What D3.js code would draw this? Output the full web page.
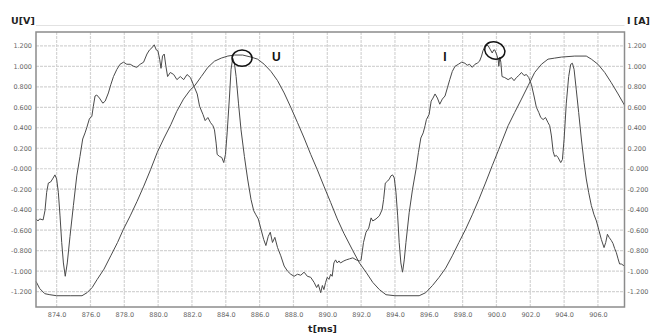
<!DOCTYPE html>
<html>
<head>
<meta charset="utf-8">
<script src="https://cdn.jsdelivr.net/npm/d3@7"></script>
<style>
  html, body { margin: 0; padding: 0; background: #fff; }
  svg { display: block; }
  .tick-label { font-family: "DejaVu Sans", Verdana, sans-serif; font-size: 6.5px; fill: #666; }
  .axis-title { font-family: "DejaVu Sans", Verdana, sans-serif; font-weight: bold; font-size: 9.5px; fill: #222; }
  .note { font-family: "Liberation Sans", Arial, sans-serif; font-weight: bold; font-size: 12px; fill: #111; }
</style>
</head>
<body>
<svg id="chart" width="652" height="333"></svg>
<script>
// Voltage trace U (time in ms, value)
const uTime = [872.78, 873.0, 873.3, 873.6, 874.0, 874.8, 875.5, 875.8, 876.1, 876.4, 876.8, 877.2, 877.6, 877.95,
  878.35, 878.75, 879.15, 879.55, 879.95, 880.35, 880.75, 881.1, 881.5, 881.9, 882.16, 882.55, 882.94, 883.33,
  883.73, 884.12, 884.51, 885.0, 885.49, 885.88, 886.27, 886.67, 887.06, 887.45, 887.84, 888.24, 888.63, 889.02,
  889.41, 889.8, 890.2, 890.59, 890.98, 891.51, 891.9, 892.29, 892.69, 893.08, 893.47, 894.0, 895.43, 895.82,
  896.22, 896.61, 897.0, 897.39, 897.78, 898.18, 898.57, 898.96, 899.35, 899.75, 900.14, 900.69, 901.08, 901.48,
  901.87, 902.26, 902.66, 903.05, 903.44, 903.84, 904.63, 905.31, 905.61, 906.0, 906.4, 906.79, 907.19, 907.57];
const uValue = [-1.10, -1.17, -1.22, -1.23, -1.24, -1.24, -1.24, -1.21, -1.16, -1.08, -0.98, -0.85, -0.72, -0.59,
  -0.46, -0.32, -0.17, -0.01, 0.16, 0.30, 0.43, 0.56, 0.68, 0.77, 0.81, 0.90, 0.99, 1.05,
  1.08, 1.10, 1.11, 1.11, 1.09, 1.07, 1.02, 0.95, 0.86, 0.74, 0.60, 0.45, 0.30, 0.14,
  -0.01, -0.17, -0.33, -0.49, -0.63, -0.80, -0.92, -1.01, -1.11, -1.18, -1.23, -1.24, -1.24, -1.21,
  -1.14, -1.06, -0.97, -0.85, -0.72, -0.59, -0.45, -0.30, -0.14, 0.03, 0.19, 0.42, 0.55, 0.68,
  0.81, 0.94, 1.02, 1.07, 1.08, 1.09, 1.10, 1.10, 1.07, 1.02, 0.94, 0.84, 0.73, 0.62];

// Current trace I (time in ms, value)
const iTime = [872.78, 872.9, 873.0, 873.2, 873.31, 873.41, 873.51, 873.64, 873.76, 873.9, 874.0, 874.1, 874.2,
  874.3, 874.4, 874.51, 874.63, 874.79, 874.99, 875.19, 875.38, 875.54, 875.68, 875.78, 875.94, 876.08, 876.17,
  876.27, 876.37, 876.53, 876.73, 876.87, 877.06, 877.2, 877.36, 877.56, 877.75, 877.95, 878.15, 878.35, 878.55,
  878.74, 878.94, 879.14, 879.34, 879.49, 879.63, 879.77, 879.89, 879.99, 880.09, 880.17, 880.26, 880.36, 880.46,
  880.56, 880.72, 880.92, 881.11, 881.31, 881.51, 881.71, 881.91, 882.16, 882.31, 882.45, 882.65, 882.78, 882.94,
  883.1, 883.24, 883.33, 883.43, 883.49, 883.63, 883.76, 883.88, 883.98, 884.08, 884.22, 884.31, 884.41, 884.51,
  884.61, 884.75, 884.9, 885.1, 885.29, 885.49, 885.65, 885.78, 885.92, 886.08, 886.24, 886.37, 886.51, 886.63,
  886.76, 886.9, 887.06, 887.25, 887.45, 887.65, 887.84, 888.04, 888.24, 888.43, 888.63, 888.82, 889.02, 889.22,
  889.37, 889.47, 889.61, 889.71, 889.8, 889.9, 890.0, 890.1, 890.2, 890.29, 890.39, 890.49, 890.59, 890.69,
  890.78, 890.98, 891.12, 891.31, 891.51, 891.71, 891.9, 892.0, 892.14, 892.29, 892.45, 892.59, 892.69, 892.88,
  893.08, 893.24, 893.33, 893.43, 893.57, 893.67, 893.76, 893.86, 893.96, 894.06, 894.16, 894.25, 894.35, 894.45,
  894.55, 894.65, 894.84, 895.04, 895.24, 895.39, 895.53, 895.67, 895.78, 895.86, 896.02, 896.14, 896.25, 896.37,
  896.51, 896.65, 896.8, 896.96, 897.1, 897.24, 897.39, 897.55, 897.75, 897.94, 898.14, 898.27, 898.41, 898.57,
  898.73, 898.86, 899.0, 899.12, 899.2, 899.35, 899.51, 899.65, 899.75, 899.84, 899.9, 900.0, 900.1, 900.14,
  900.2, 900.26, 900.33, 900.49, 900.69, 900.89, 901.04, 901.18, 901.32, 901.48, 901.63, 901.77, 901.91, 902.07,
  902.22, 902.36, 902.5, 902.62, 902.76, 902.9, 903.05, 903.15, 903.25, 903.35, 903.44, 903.54, 903.64, 903.8,
  903.9, 904.0, 904.13, 904.27, 904.39, 904.49, 904.59, 904.72, 904.86, 905.02, 905.18, 905.31, 905.45, 905.61,
  905.77, 905.91, 906.04, 906.2, 906.36, 906.46, 906.56, 906.66, 906.79, 906.89, 906.99, 907.09, 907.19, 907.28,
  907.38, 907.57];
const iValue = [-0.49, -0.51, -0.49, -0.50, -0.41, -0.23, -0.14, -0.13, -0.10, -0.06, -0.10, -0.23, -0.46,
  -0.72, -0.92, -1.05, -0.92, -0.66, -0.36, -0.07, 0.12, 0.29, 0.35, 0.40, 0.49, 0.51, 0.61,
  0.71, 0.72, 0.69, 0.64, 0.66, 0.74, 0.82, 0.90, 0.97, 1.02, 1.04, 1.02, 1.02, 1.00,
  0.99, 1.02, 1.04, 1.12, 1.16, 1.18, 1.21, 1.16, 1.15, 1.07, 0.98, 1.10, 1.12, 1.00,
  0.90, 0.94, 0.92, 0.87, 0.90, 0.87, 0.92, 0.89, 0.79, 0.73, 0.61, 0.53, 0.47, 0.50,
  0.45, 0.42, 0.38, 0.25, 0.14, 0.12, 0.11, 0.06, 0.14, 0.35, 0.71, 0.97, 1.08, 1.03,
  0.90, 0.64, 0.38, 0.12, -0.10, -0.30, -0.41, -0.45, -0.49, -0.59, -0.69, -0.75, -0.66, -0.62,
  -0.72, -0.67, -0.77, -0.85, -0.95, -1.00, -1.03, -1.05, -1.03, -1.04, -1.01, -1.05, -1.06, -1.11,
  -1.16, -1.13, -1.21, -1.14, -1.18, -1.11, -1.06, -1.08, -1.03, -1.05, -0.92, -0.89, -0.92, -0.90,
  -0.92, -0.90, -0.89, -0.88, -0.87, -0.89, -0.90, -0.89, -0.72, -0.62, -0.58, -0.48, -0.51, -0.49,
  -0.46, -0.40, -0.30, -0.14, -0.12, -0.10, -0.07, -0.06, -0.09, -0.23, -0.46, -0.72, -0.92, -1.01,
  -0.89, -0.72, -0.43, -0.20, -0.01, 0.16, 0.30, 0.35, 0.42, 0.48, 0.53, 0.66, 0.69, 0.73,
  0.69, 0.63, 0.68, 0.71, 0.79, 0.87, 0.95, 1.00, 1.02, 1.04, 1.03, 1.01, 1.02, 0.99,
  1.02, 1.03, 1.05, 1.10, 1.15, 1.21, 1.20, 1.16, 1.13, 1.16, 1.16, 1.12, 1.07, 1.00,
  1.09, 1.04, 0.90, 0.89, 0.87, 0.89, 0.86, 0.89, 0.91, 0.94, 0.91, 0.92, 0.89, 0.82,
  0.71, 0.60, 0.55, 0.50, 0.48, 0.50, 0.45, 0.42, 0.32, 0.17, 0.12, 0.13, 0.11, 0.06,
  0.09, 0.29, 0.64, 0.90, 1.02, 1.03, 0.97, 0.77, 0.55, 0.29, 0.06, -0.10, -0.23, -0.36,
  -0.45, -0.51, -0.59, -0.69, -0.77, -0.72, -0.64, -0.67, -0.70, -0.73, -0.78, -0.82, -0.88, -0.93,
  -0.93, -0.95];

const xTicks = [874, 876, 878, 880, 882, 884, 886, 888, 890, 892, 894, 896, 898, 900, 902, 904, 906];
const yTicks = [1.2, 1.0, 0.8, 0.6, 0.4, 0.2, 0, -0.2, -0.4, -0.6, -0.8, -1.0, -1.2];

// Annotation markers: [time, value] of each ring and label
const uRing = [884.96, 1.08];
const iRing = [899.9, 1.155];
const uNote = [886.99, 1.05];
const iNote = [899.9 - 2.95, 1.05];

const svg = d3.select("#chart");
const plot = { left: 36, right: 624.5, top: 32, bottom: 307 };

const x = d3.scaleLinear().domain([872.78, 907.57]).range([plot.left, plot.right]);
const y = d3.scaleLinear().domain([-1.35, 1.335]).range([plot.bottom, plot.top]);

// faint rule above the plot
svg.append("line")
  .attr("x1", plot.left).attr("x2", plot.right)
  .attr("y1", 25.5).attr("y2", 25.5)
  .attr("stroke", "#e2e2e2").attr("stroke-width", 1);

// gridlines
const grid = svg.append("g");
grid.selectAll("line.vx").data(xTicks).join("line")
  .attr("x1", d => x(d)).attr("x2", d => x(d))
  .attr("y1", plot.top).attr("y2", plot.bottom)
  .attr("stroke", "#d4d4d4").attr("stroke-width", 1.2)
  .attr("stroke-dasharray", "3,1");
grid.selectAll("line.hy").data(yTicks).join("line")
  .attr("x1", plot.left).attr("x2", plot.right)
  .attr("y1", d => y(d)).attr("y2", d => y(d))
  .attr("stroke", "#d4d4d4").attr("stroke-width", 1.2)
  .attr("stroke-dasharray", "3,1");

const fmtY = d => (d <= 0 ? "-" : "") + Math.abs(d).toFixed(3);
const fmtX = d => d.toFixed(1);

// left and right value axes, bottom time axis
const axL = d3.axisLeft(y).tickValues(yTicks).tickFormat(fmtY).tickSize(0).tickPadding(4);
const axR = d3.axisRight(y).tickValues(yTicks).tickFormat(fmtY).tickSize(0).tickPadding(3);
const axB = d3.axisBottom(x).tickValues(xTicks).tickFormat(fmtX).tickSize(0).tickPadding(5);

function styleAxis(g) {
  g.select(".domain").remove();
  g.selectAll("text").attr("class", "tick-label");
}
svg.append("g").attr("transform", `translate(${plot.left},0)`).call(axL).call(styleAxis);
svg.append("g").attr("transform", `translate(${plot.right},0)`).call(axR).call(styleAxis);
svg.append("g").attr("transform", `translate(0,${plot.bottom})`).call(axB).call(styleAxis);

// traces
const line = d3.line().x(d => x(d[0])).y(d => y(d[1]));
const uData = d3.zip(uTime, uValue);
const iData = d3.zip(iTime, iValue);

svg.append("path").datum(uData).attr("d", line)
  .attr("fill", "none").attr("stroke", "#4a4a4a").attr("stroke-width", 1);
svg.append("path").datum(iData).attr("d", line)
  .attr("fill", "none").attr("stroke", "#4a4a4a").attr("stroke-width", 1);

// plot frame
svg.append("rect")
  .attr("x", plot.left).attr("y", plot.top)
  .attr("width", plot.right - plot.left).attr("height", plot.bottom - plot.top)
  .attr("fill", "none").attr("stroke", "#8c8c8c").attr("stroke-width", 1.5);

// axis titles
svg.append("text").attr("class", "axis-title").attr("x", 11).attr("y", 23.5).text("U[V]");
svg.append("text").attr("class", "axis-title").attr("x", 627).attr("y", 23.5).text("I [A]");
svg.append("text").attr("class", "axis-title").attr("x", 322.5).attr("y", 332)
  .attr("text-anchor", "middle").text("t[ms]");

// rings and labels marking the peaks
svg.append("ellipse").attr("cx", x(uRing[0])).attr("cy", y(uRing[1]))
  .attr("rx", 10).attr("ry", 8.2)
  .attr("fill", "none").attr("stroke", "#111").attr("stroke-width", 1.5);
svg.append("ellipse").attr("cx", x(iRing[0])).attr("cy", y(iRing[1]))
  .attr("rx", 10.3).attr("ry", 8.5)
  .attr("transform", `rotate(20,${x(iRing[0])},${y(iRing[1])})`)
  .attr("fill", "none").attr("stroke", "#111").attr("stroke-width", 1.5);
svg.append("text").attr("class", "note").attr("x", x(uNote[0])).attr("y", y(uNote[1]))
  .attr("text-anchor", "middle").text("U");
svg.append("text").attr("class", "note").attr("x", x(iNote[0])).attr("y", y(iNote[1]))
  .attr("text-anchor", "middle").text("I");
</script>
</body>
</html>
